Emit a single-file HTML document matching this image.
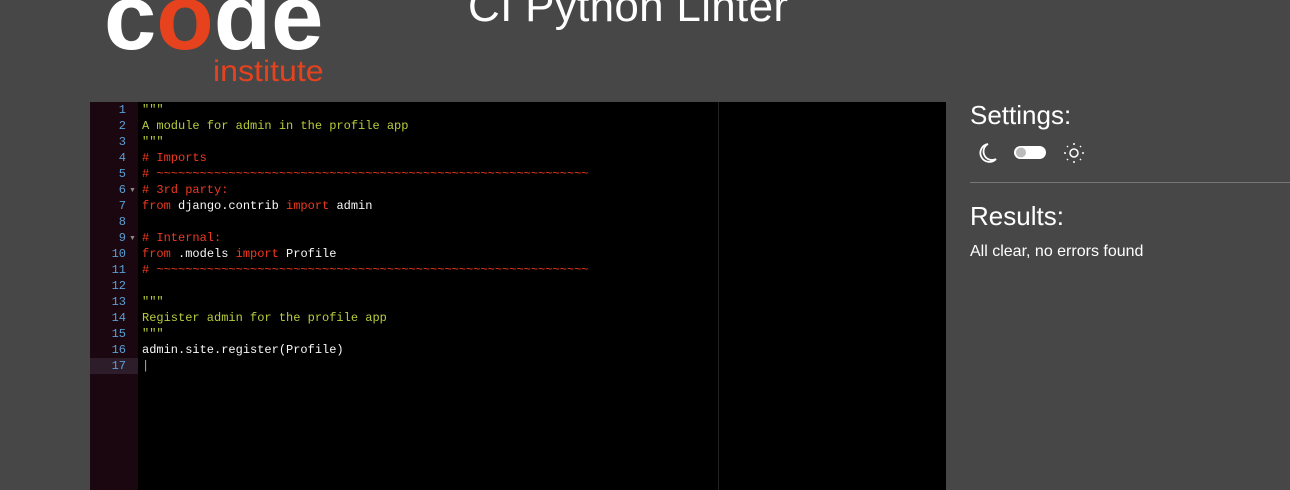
<!DOCTYPE html>
<html><head><style>
body{margin:0;width:1290px;height:490px;background:#474747;overflow:hidden;position:relative;font-family:"Liberation Sans",sans-serif}
.logo{position:absolute;left:104px;top:-37px;font-size:94px;font-weight:bold;color:#fff;letter-spacing:0px}
.logo span{color:#e5421d}
.inst{position:absolute;left:213px;top:55px;font-size:30px;color:#e5421d;transform:scaleX(1.07);transform-origin:left}
.title{position:absolute;left:468px;top:-18px;font-size:44px;color:#fff;letter-spacing:0.3px}
.ed{position:absolute;left:90px;top:102px;width:856px;height:388px;background:#000}
.gut{position:absolute;left:0;top:0;width:48px;height:388px;background:#1b0710}
.act{position:absolute;left:0;top:256px;width:48px;height:16px;background:#2d1d2b}
.pm{position:absolute;left:628px;top:0;width:1px;height:388px;background:#222}
.ln{position:absolute;left:0;width:36px;text-align:right;color:#5a9fd6;font:12px/16px "Liberation Mono",monospace}
.code{position:absolute;left:52px;top:0px;font:12px/16px "Liberation Mono",monospace;color:#f8f8f8;white-space:pre}
.s{color:#b8cc3c}.c{color:#f0391e}.k{color:#f0391e}
.side{position:absolute;left:970px;color:#fff}
</style></head><body>
<div class="logo">c<span>o</span>de</div>
<div class="inst">institute</div>
<div class="title">CI Python Linter</div>
<div class="ed">
<div class="gut"></div><div class="act"></div><div class="pm"></div>
<div class="ln" style="top:0px">1<br>2<br>3<br>4<br>5<br>6<br>7<br>8<br>9<br>10<br>11<br>12<br>13<br>14<br>15<br>16<br>17</div>
<div style="position:absolute;left:39px;top:85px;color:#888;font-size:7px">▼</div>
<div style="position:absolute;left:39px;top:133px;color:#888;font-size:7px">▼</div>
<div class="code"><span class="s">"""
A module for admin in the profile app
"""</span>
<span class="c"># Imports
# ~~~~~~~~~~~~~~~~~~~~~~~~~~~~~~~~~~~~~~~~~~~~~~~~~~~~~~~~~~~~
# 3rd party:</span>
<span class="k">from</span> django.contrib <span class="k">import</span> admin

<span class="c"># Internal:</span>
<span class="k">from</span> .models <span class="k">import</span> Profile
<span class="c"># ~~~~~~~~~~~~~~~~~~~~~~~~~~~~~~~~~~~~~~~~~~~~~~~~~~~~~~~~~~~~</span>

<span class="s">"""
Register admin for the profile app
"""</span>
admin.site.register(Profile)
<span style="color:#aaa">|</span></div>
</div>
<div class="side" style="top:100px;font-size:26px">Settings:</div>
<svg style="position:absolute;left:974px;top:140px" width="110" height="26">
<path d="M14 4 A9 9 0 1 0 22 19 A8 8 0 0 1 14 4Z" fill="none" stroke="#fff" stroke-width="1.8"/>
<rect x="40" y="6" width="32" height="13" rx="6.5" fill="#fff"/><circle cx="47" cy="12.5" r="5" fill="#bbb"/>
<circle cx="100" cy="13" r="4" fill="none" stroke="#fff" stroke-width="1.5"/>
<g stroke="#fff" stroke-width="1.5"><line x1="100" y1="3" x2="100" y2="5"/><line x1="100" y1="21" x2="100" y2="23"/><line x1="90" y1="13" x2="92" y2="13"/><line x1="108" y1="13" x2="110" y2="13"/><line x1="93" y1="6" x2="94" y2="7"/><line x1="106" y1="19" x2="107" y2="20"/><line x1="93" y1="20" x2="94" y2="19"/><line x1="106" y1="7" x2="107" y2="6"/></g>
</svg>
<div style="position:absolute;left:970px;top:182px;width:320px;height:1px;background:#777"></div>
<div class="side" style="top:201px;font-size:26px">Results:</div>
<div class="side" style="top:243px;font-size:16px">All clear, no errors found</div>
</body></html>
